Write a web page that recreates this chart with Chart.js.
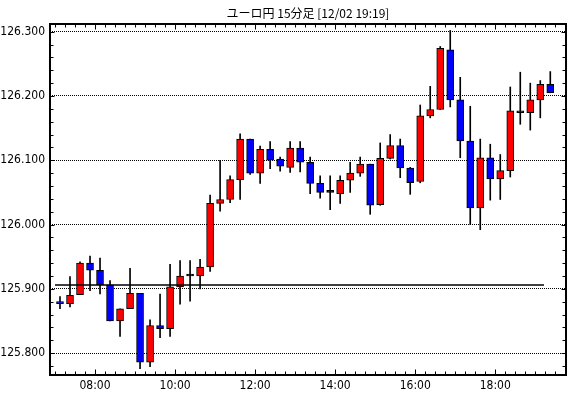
<!DOCTYPE html>
<html>
<head>
<meta charset="utf-8">
<script src="https://cdn.jsdelivr.net/npm/chart.js@4"></script>
<style>
  html, body { margin: 0; padding: 0; background: #fff; }
  #wrap { width: 570px; height: 398px; }
</style>
</head>
<body>
<div id="wrap"><canvas id="fxChart" width="570" height="398"></canvas></div>
<script>
// ユーロ円 15分足
const chartTitle = 'ユーロ円 15分足 [12/02 19:19]';

const times = [
  '07:00', '07:15', '07:30', '07:45', '08:00', '08:15', '08:30', '08:45',
  '09:00', '09:15', '09:30', '09:45', '10:00', '10:15', '10:30', '10:45',
  '11:00', '11:15', '11:30', '11:45', '12:00', '12:15', '12:30', '12:45',
  '13:00', '13:15', '13:30', '13:45', '14:00', '14:15', '14:30', '14:45',
  '15:00', '15:15', '15:30', '15:45', '16:00', '16:15', '16:30', '16:45',
  '17:00', '17:15', '17:30', '17:45', '18:00', '18:15', '18:30', '18:45',
  '19:00', '19:15'
];

const opens = [
  125.880, 125.877, 125.891, 125.940, 125.929, 125.906, 125.850, 125.869,
  125.893, 125.786, 125.843, 125.838, 125.903, 125.920, 125.920, 125.934,
  126.033, 126.039, 126.070, 126.133, 126.080, 126.117, 126.102, 126.089,
  126.119, 126.097, 126.064, 126.050, 126.048, 126.069, 126.080, 126.094,
  126.031, 126.103, 126.123, 126.088, 126.067, 126.169, 126.179, 126.272,
  126.194, 126.130, 126.026, 126.104, 126.071, 126.084, 126.177, 126.174,
  126.194, 126.218
];
const highs = [
  125.888, 125.919, 125.942, 125.951, 125.948, 125.913, 125.869, 125.932,
  125.893, 125.852, 125.892, 125.938, 125.944, 125.944, 125.946, 126.046,
  126.100, 126.076, 126.141, 126.133, 126.122, 126.129, 126.105, 126.129,
  126.129, 126.105, 126.076, 126.076, 126.076, 126.097, 126.105, 126.094,
  126.127, 126.140, 126.133, 126.089, 126.186, 126.215, 126.277, 126.302,
  126.229, 126.184, 126.133, 126.125, 126.109, 126.214, 126.237, 126.220,
  126.224, 126.238
];
const lows = [
  125.869, 125.872, 125.891, 125.897, 125.892, 125.850, 125.826, 125.869,
  125.776, 125.779, 125.824, 125.826, 125.876, 125.881, 125.900, 125.927,
  126.021, 126.034, 126.039, 126.078, 126.064, 126.087, 126.083, 126.081,
  126.082, 126.048, 126.041, 126.023, 126.033, 126.050, 126.075, 126.016,
  126.030, 126.102, 126.073, 126.047, 126.065, 126.166, 126.179, 126.183,
  126.104, 126.000, 125.992, 126.038, 126.039, 126.074, 126.156, 126.147,
  126.166, 126.205
];
const closes = [
  125.877, 125.890, 125.940, 125.929, 125.906, 125.850, 125.869, 125.893,
  125.786, 125.843, 125.838, 125.903, 125.920, 125.920, 125.934, 126.033,
  126.039, 126.070, 126.133, 126.080, 126.117, 126.100, 126.091, 126.119,
  126.097, 126.064, 126.050, 126.050, 126.069, 126.080, 126.094, 126.030,
  126.103, 126.123, 126.088, 126.065, 126.169, 126.179, 126.274, 126.194,
  126.130, 126.026, 126.104, 126.071, 126.084, 126.177, 126.174, 126.194,
  126.218, 126.205
];

// 横線 (基準レート)
const refTimes = ['07:00', '19:13'];
const refLevel = 125.906;

// 目盛り
const timeTickLabels = ['08:00', '10:00', '12:00', '14:00', '16:00', '18:00'];
const priceTicks = [125.8, 125.9, 126.0, 126.1, 126.2, 126.3];

const yMin = 125.766;
const yMax = 126.312;

// 07:00 を 0 とした15分単位の位置
function slotOf(t) {
  const [h, m] = t.split(':').map(Number);
  return (h * 60 + m - 420) / 15;
}
function timeOf(slot) {
  const mins = 420 + slot * 15;
  const h = Math.floor(mins / 60), m = mins % 60;
  return String(h).padStart(2, '0') + ':' + String(m).padStart(2, '0');
}

const UP = '#ff0000';
const DOWN = '#0000ff';
const FONT = '"Liberation Sans Narrow", "DejaVu Sans Condensed", "Liberation Sans", sans-serif';

const wickData = times.map((t, i) => ({ x: slotOf(t) + 0.5, y: [lows[i], highs[i]] }));
const bodyData = times.map((t, i) => ({ x: slotOf(t) + 0.5, y: [opens[i], closes[i]] }));
const bodyColors = times.map((t, i) =>
  closes[i] > opens[i] ? UP : (closes[i] < opens[i] ? DOWN : '#000'));

// 枠線・内向きの目盛り・タイトル
const framePlugin = {
  id: 'frame',
  afterDatasetsDraw(chart) {
    const ctx = chart.ctx;
    const a = chart.chartArea;
    const xs = chart.scales.x, ys = chart.scales.y;
    ctx.save();
    ctx.strokeStyle = '#000';
    ctx.lineWidth = 1;
    const L = Math.round(a.left) + 0.5, R = Math.round(a.right) - 0.5;
    const T = Math.round(a.top) + 0.5, B = Math.round(a.bottom) - 0.5;
    ctx.beginPath();
    // x 目盛り (15分ごと)
    const majors = timeTickLabels.map(slotOf);
    for (let s = 0; s <= xs.max; s++) {
      const px = Math.round(xs.getPixelForValue(s)) + 0.5;
      const len = majors.includes(s) ? 5 : 3;
      ctx.moveTo(px, B); ctx.lineTo(px, B - len);
      ctx.moveTo(px, T); ctx.lineTo(px, T + len);
    }
    // y 目盛り (0.02ごと)
    for (let k = 0; k <= 26; k++) {
      const v = 125.78 + k * 0.02;
      const py = Math.round(ys.getPixelForValue(v)) + 0.5;
      const len = k % 5 === 1 ? 4 : 3;
      ctx.moveTo(L, py); ctx.lineTo(L + len, py);
      ctx.moveTo(R, py); ctx.lineTo(R - len, py);
    }
    ctx.stroke();
    ctx.lineWidth = 2;
    ctx.strokeRect(Math.round(a.left), Math.round(a.top), Math.round(a.right - a.left), Math.round(a.bottom - a.top));
    // タイトル
    ctx.fillStyle = '#000';
    ctx.font = '12px "Noto Sans CJK JP", sans-serif';
    ctx.textAlign = 'center';
    ctx.textBaseline = 'middle';
    ctx.fillText(chartTitle, (a.left + a.right) / 2, 13);
    ctx.restore();
  }
};

new Chart(document.getElementById('fxChart').getContext('2d'), {
  type: 'bar',
  data: {
    datasets: [
      {
        label: 'ヒゲ',
        data: wickData,
        backgroundColor: '#000',
        barThickness: 1,
        grouped: false,
        order: 3
      },
      {
        label: '実体',
        data: bodyData,
        backgroundColor: bodyColors,
        borderColor: '#000',
        borderWidth: 1,
        borderSkipped: false,
        barThickness: 7,
        minBarLength: 2,
        grouped: false,
        order: 2
      },
      {
        type: 'line',
        label: '基準',
        data: refTimes.map(t => ({ x: slotOf(t), y: refLevel })),
        borderColor: '#000',
        borderWidth: 1.5,
        pointRadius: 0,
        order: 1
      }
    ]
  },
  options: {
    responsive: false,
    animation: false,
    layout: { padding: { left: 0, right: 4, top: 24, bottom: 0 } },
    plugins: {
      legend: { display: false },
      tooltip: { enabled: false }
    },
    scales: {
      x: {
        type: 'linear',
        offset: false,
        min: -0.5,
        max: 51.07,
        grid: { display: false, drawTicks: false },
        border: { display: false },
        afterBuildTicks: s => { s.ticks = timeTickLabels.map(t => ({ value: slotOf(t) })); },
        afterFit: s => { s.height = 23; },
        ticks: {
          autoSkip: false,
          maxRotation: 0,
          padding: 4,
          color: '#000',
          font: { family: FONT, size: 12 },
          callback: v => timeOf(v)
        }
      },
      y: {
        type: 'linear',
        min: yMin,
        max: yMax,
        beginAtZero: false,
        afterBuildTicks: s => { s.ticks = priceTicks.map(v => ({ value: v })); },
        afterFit: s => { s.width = 50; },
        grid: { color: '#000', lineWidth: 1, drawTicks: false },
        border: { display: false, dash: [1, 1] },
        ticks: {
          padding: 5,
          color: '#000',
          font: { family: FONT, size: 12 },
          callback: v => v.toFixed(3)
        }
      }
    }
  },
  plugins: [framePlugin]
});
</script>
</body>
</html>
